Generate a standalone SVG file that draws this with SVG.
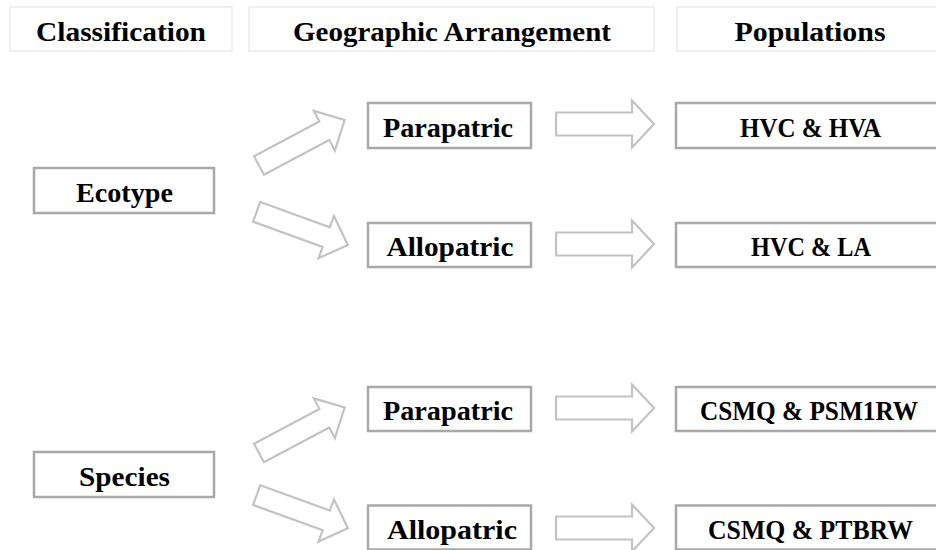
<svg xmlns="http://www.w3.org/2000/svg" width="936" height="550" viewBox="0 0 936 550">
<style>
.hdr{fill:#ffffff;stroke:#e4e4e4;stroke-width:1.2}
.box{fill:#ffffff;stroke:#a8a8a8;stroke-width:2.5}
.arr{fill:#ffffff;stroke:#c3c3c3;stroke-width:2.2;stroke-linejoin:miter}
text{font-family:"Liberation Serif","Times New Roman",serif;font-weight:bold;font-size:27px;fill:#000000;text-anchor:middle}
</style>
<defs>
<path id="diag" d="M0,-10.5 L74,-10.5 L74,-22.5 L97,0 L74,22.5 L74,10.5 L0,10.5 Z"/>
</defs>
<rect width="936" height="550" fill="#ffffff"/>
<g id="header-classification">
<rect class="hdr" x="10" y="7" width="222" height="44"/>
<text x="121" y="41" textLength="170" lengthAdjust="spacingAndGlyphs">Classification</text>
</g>
<g id="header-geographic">
<rect class="hdr" x="249" y="7" width="405" height="44"/>
<text x="452" y="41" textLength="318" lengthAdjust="spacingAndGlyphs">Geographic Arrangement</text>
</g>
<g id="header-populations">
<rect class="hdr" x="677" y="7" width="270" height="44"/>
<text x="810" y="41" textLength="151" lengthAdjust="spacingAndGlyphs">Populations</text>
</g>
<g id="ecotype">
<rect class="box" x="34" y="168" width="180" height="45"/>
<text x="124.5" y="202" textLength="97" lengthAdjust="spacingAndGlyphs">Ecotype</text>
</g>
<g id="species">
<rect class="box" x="34" y="452" width="180" height="45"/>
<text x="124.5" y="486" textLength="91" lengthAdjust="spacingAndGlyphs">Species</text>
</g>
<g id="parapatric-1">
<rect class="box" x="368" y="103" width="163" height="45"/>
<text x="448" y="136.5" textLength="130" lengthAdjust="spacingAndGlyphs">Parapatric</text>
</g>
<g id="allopatric-1">
<rect class="box" x="368" y="223" width="163" height="44"/>
<text x="450" y="256" textLength="127" lengthAdjust="spacingAndGlyphs">Allopatric</text>
</g>
<g id="parapatric-2">
<rect class="box" x="368" y="387" width="163" height="44"/>
<text x="448" y="420" textLength="130" lengthAdjust="spacingAndGlyphs">Parapatric</text>
</g>
<g id="allopatric-2">
<rect class="box" x="368" y="505.5" width="163" height="44"/>
<text x="452" y="538.5" textLength="130" lengthAdjust="spacingAndGlyphs">Allopatric</text>
</g>
<g id="hvc-hva">
<rect class="box" x="676" y="103" width="280" height="45"/>
<text x="810.5" y="136.5" textLength="141" lengthAdjust="spacingAndGlyphs">HVC &amp; HVA</text>
</g>
<g id="hvc-la">
<rect class="box" x="676" y="223" width="280" height="44"/>
<text x="811" y="256" textLength="120" lengthAdjust="spacingAndGlyphs">HVC &amp; LA</text>
</g>
<g id="csmq-psm1rw">
<rect class="box" x="676" y="387" width="280" height="44"/>
<text x="809" y="420" textLength="218" lengthAdjust="spacingAndGlyphs">CSMQ &amp; PSM1RW</text>
</g>
<g id="csmq-ptbrw">
<rect class="box" x="676" y="505.5" width="280" height="44"/>
<text x="810.5" y="538.5" textLength="205" lengthAdjust="spacingAndGlyphs">CSMQ &amp; PTBRW</text>
</g>
<g id="connectors">
<use href="#diag" class="arr" transform="translate(259,165.5) rotate(-28)"/>
<use href="#diag" class="arr" transform="translate(256.7,211.8) rotate(20)"/>
<use href="#diag" class="arr" transform="translate(259,453) rotate(-28)"/>
<use href="#diag" class="arr" transform="translate(256.7,495.1) rotate(20)"/>
<path class="arr" d="M556,112.5 H632 V100.5 L654,124 L632,147.5 V135.5 H556 Z"/>
<path class="arr" d="M556,232.5 H632 V220.5 L654,244 L632,267.5 V255.5 H556 Z"/>
<path class="arr" d="M556,396.5 H632 V384.5 L654,408 L632,431.5 V419.5 H556 Z"/>
<path class="arr" d="M556,516.5 H632 V504.5 L654,528 L632,551.5 V539.5 H556 Z"/>
</g>
</svg>
